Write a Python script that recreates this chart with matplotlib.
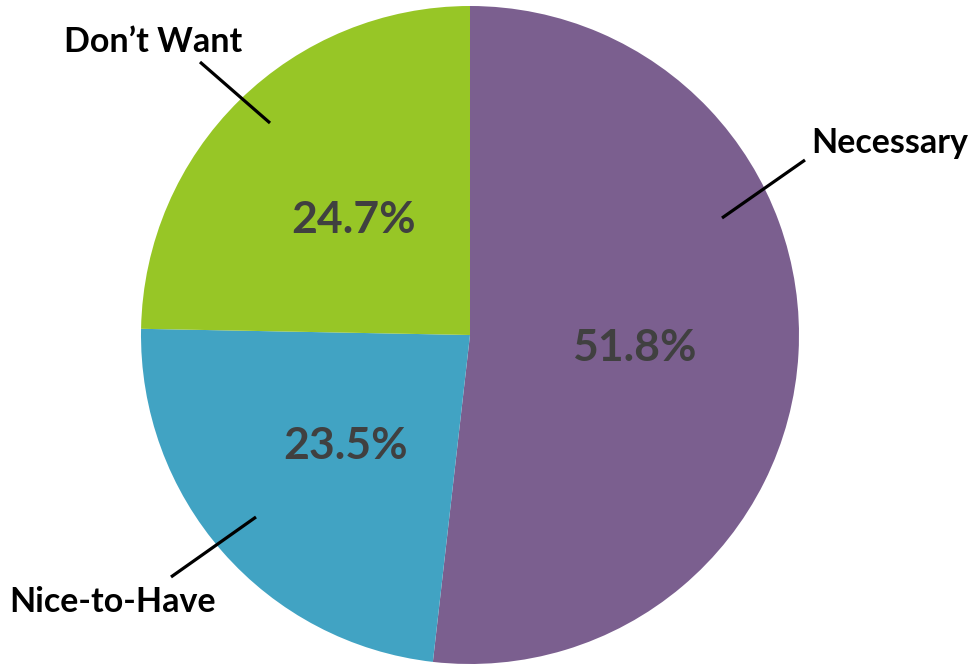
import matplotlib.pyplot as plt

# survey answers, clockwise from 12 o'clock
categories = ["Necessary", "Nice-to-Have", "Don\u2019t Want"]
shares = [51.8, 23.5, 24.7]
colors = ["#7B5F8F", "#41A3C3", "#97C626"]

plt.rcParams['font.family'] = ['Lato', 'DejaVu Sans']

fig = plt.figure(figsize=(9.71, 6.65), dpi=100)
ax = fig.add_axes([0, 0, 1, 1])

cx, cy, r = 470, 330, 329
wedges, texts, autotexts = ax.pie(
    shares, colors=colors, startangle=90, counterclock=False,
    center=(cx, cy), radius=r, frame=True,
    autopct='%.1f%%', pctdistance=0.58,
    textprops=dict(fontsize=32, fontweight='bold', color='#404040'),
)
ax.set_xlim(0, 971)
ax.set_ylim(0, 665)
ax.set_aspect('equal')
ax.axis('off')

# nudge percentage labels
pct_pos = [(634, 317), (346, 219), (354, 445)]
for t, (x, y) in zip(autotexts, pct_pos):
    t.set_position((x, y))

# leader lines and category names
leaders = [((722, 447), (805, 505)), ((256, 148), (171, 88)), ((270, 542), (200, 603))]
name_pos = [(890, 522), (113, 63), (153, 623)]
for name, (p0, p1), (x, y) in zip(categories, leaders, name_pos):
    ax.plot([p0[0], p1[0]], [p0[1], p1[1]], color='black', lw=2.3, solid_capstyle='butt')
    ax.text(x, y, name, fontsize=24.5, fontweight='bold', color='black', ha='center', va='center')

fig.savefig('out.png', dpi=100)
